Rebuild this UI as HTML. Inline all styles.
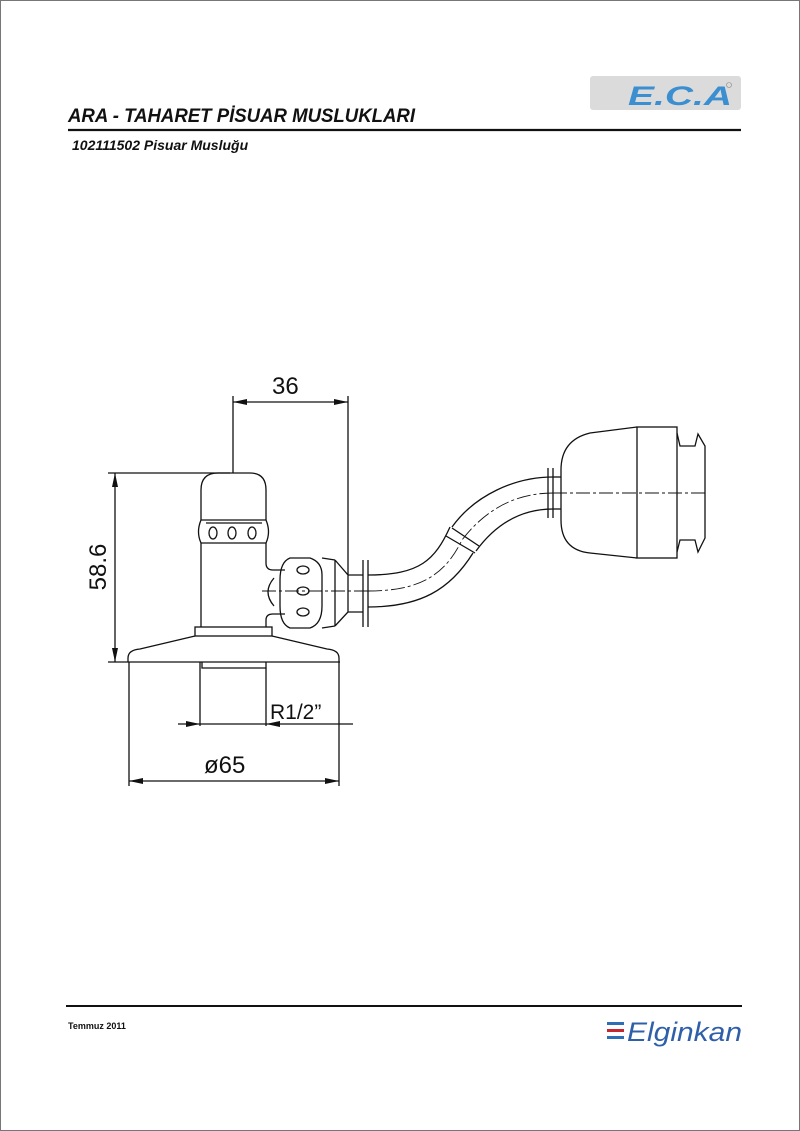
<!DOCTYPE html>
<html><head><style>
body{margin:0;background:#fff}
svg{display:block}
</style></head><body>
<svg width="800" height="1131" viewBox="0 0 800 1131" xmlns="http://www.w3.org/2000/svg" font-family="Liberation Sans, sans-serif">
<rect x="0.5" y="0.5" width="799" height="1130" fill="#fff" stroke="#777" stroke-width="1"/>
<text x="68" y="122" font-size="19" font-weight="bold" font-style="italic" fill="#111" textLength="347" lengthAdjust="spacingAndGlyphs">ARA - TAHARET PİSUAR MUSLUKLARI</text>
<line x1="68" y1="130" x2="741" y2="130" stroke="#111" stroke-width="2.2"/>
<text x="72" y="150" font-size="14" font-weight="bold" font-style="italic" fill="#111">102111502 Pisuar Musluğu</text>
<rect x="590" y="76" width="151" height="34" rx="3" fill="#dcdbdb"/>
<text x="628" y="105" font-size="27" font-weight="900" font-style="italic" fill="#3b8fd0" textLength="104" lengthAdjust="spacingAndGlyphs">E.C.A</text>
<circle cx="729" cy="85" r="2.5" fill="none" stroke="#888" stroke-width="0.6"/>

<g fill="none" stroke="#111" stroke-width="1.3">
<line x1="233" y1="396" x2="233" y2="473"/>
<line x1="348" y1="396" x2="348" y2="575"/>
<line x1="233" y1="402" x2="348" y2="402"/>
<line x1="108" y1="473" x2="230" y2="473"/>
<line x1="108" y1="662" x2="340" y2="662"/>
<line x1="115" y1="473" x2="115" y2="662"/>
<path d="M201,520 L201,490 Q201,473 218,473 L250,473 Q266,473 266,490 L266,520"/>
<path d="M201,520 Q196,532 201,543 L266,543 Q271,532 266,520 Z"/>
<line x1="206" y1="523" x2="262" y2="523"/>
<ellipse cx="213" cy="533" rx="4" ry="6"/>
<ellipse cx="232" cy="533" rx="4" ry="6"/>
<ellipse cx="252" cy="533" rx="4" ry="6"/>
<path d="M201,543 L201,627"/>
<path d="M266,543 L266,563 Q266,570 273,570 L285,570"/>
<path d="M266,627 L266,620 Q266,614 273,614 L285,614"/>
<path d="M274,578 Q262,592 274,606"/>
<path d="M290,558 L310,558 Q322,562 322,575 L322,606 Q322,624 310,628 L290,628 Q280,624 280,606 L280,580 Q280,562 290,558 Z"/>
<ellipse cx="303" cy="570" rx="6" ry="4"/>
<ellipse cx="303" cy="591" rx="6" ry="4"/>
<ellipse cx="303" cy="612" rx="6" ry="4"/>
<line x1="322" y1="558" x2="335" y2="560"/>
<line x1="322" y1="628" x2="335" y2="626"/>
<line x1="335" y1="560" x2="335" y2="626"/>
<path d="M335,560 L348,575 L348,612 L335,626"/>
<path d="M348,575 L363,575 M348,612 L363,612"/>
<line x1="363" y1="560" x2="363" y2="627"/>
<line x1="368" y1="560" x2="368" y2="627"/>
<rect x="195" y="627" width="77" height="9"/>
<path d="M128,662 L128,658 Q128,650 140,649 L195,636 M272,636 L327,649 Q339,650 339,658 L339,662"/>
<path d="M202,662 L202,668 L266,668 L266,662"/>
<line x1="200" y1="662" x2="200" y2="726"/>
<line x1="266" y1="668" x2="266" y2="726"/>
<line x1="178" y1="724" x2="353" y2="724"/>
<line x1="129" y1="662" x2="129" y2="786"/>
<line x1="339" y1="662" x2="339" y2="786"/>
<line x1="129" y1="781" x2="339" y2="781"/>
<path d="M368,575 C420,575 435,560 450,527"/>
<path d="M368,607 C420,607 450,590 473,553"/>
<path d="M452,527 C475,495 515,477 553,477"/>
<path d="M476,551 C495,525 520,509 553,509"/>
<line x1="446" y1="536" x2="475" y2="553" />
<line x1="452" y1="528" x2="479" y2="546"/>
<line x1="548" y1="468" x2="548" y2="518"/>
<line x1="553" y1="468" x2="553" y2="518"/>
<line x1="553" y1="477" x2="561" y2="477"/>
<line x1="553" y1="509" x2="561" y2="509"/>
<path d="M637,427 L590,433 Q561,440 561,470 L561,520 Q561,550 590,553 L637,558"/>
<rect x="637" y="427" width="40" height="131"/>
<path d="M677,433 L680,446 L695,446 L698,434 L705,446 L705,538 L698,552 L695,540 L680,540 L677,552"/>
</g>
<g fill="none" stroke="#111" stroke-width="0.9" stroke-dasharray="14,3,3,3">
<line x1="262" y1="591" x2="368" y2="591"/>
<path d="M368,591 C420,591 445,575 462,540 C485,510 515,493 553,493"/>
<line x1="553" y1="493" x2="708" y2="493"/>
</g>
<g fill="#111">
<path d="M233,402 l14,-3 v6z"/><path d="M348,402 l-14,-3 v6z"/>
<path d="M115,473 l-3,14 h6z"/><path d="M115,662 l-3,-14 h6z"/>
<path d="M200,724 l-14,-3 v6z"/><path d="M266,724 l14,-3 v6z"/>
<path d="M129,781 l14,-3 v6z"/><path d="M339,781 l-14,-3 v6z"/>
</g>
<g font-size="24" fill="#111">
<text x="272" y="394">36</text>
<text x="204" y="773">ø65</text>
<text x="270" y="719" font-size="21">R1/2”</text>
<text transform="translate(106,567) rotate(-90)" text-anchor="middle">58.6</text>
</g>
<line x1="66" y1="1006" x2="742" y2="1006" stroke="#111" stroke-width="2"/>
<text x="68" y="1029" font-size="9" font-weight="bold" fill="#111">Temmuz 2011</text>
<rect x="607" y="1022" width="17" height="3" fill="#2f6db5"/>
<rect x="607" y="1029" width="17" height="3" fill="#c8262e"/>
<rect x="607" y="1036" width="17" height="3" fill="#2f6db5"/>
<text x="627" y="1041" font-size="27" font-style="italic" fill="#2f5fa8" textLength="115" lengthAdjust="spacingAndGlyphs">Elginkan</text>
</svg>
</body></html>
